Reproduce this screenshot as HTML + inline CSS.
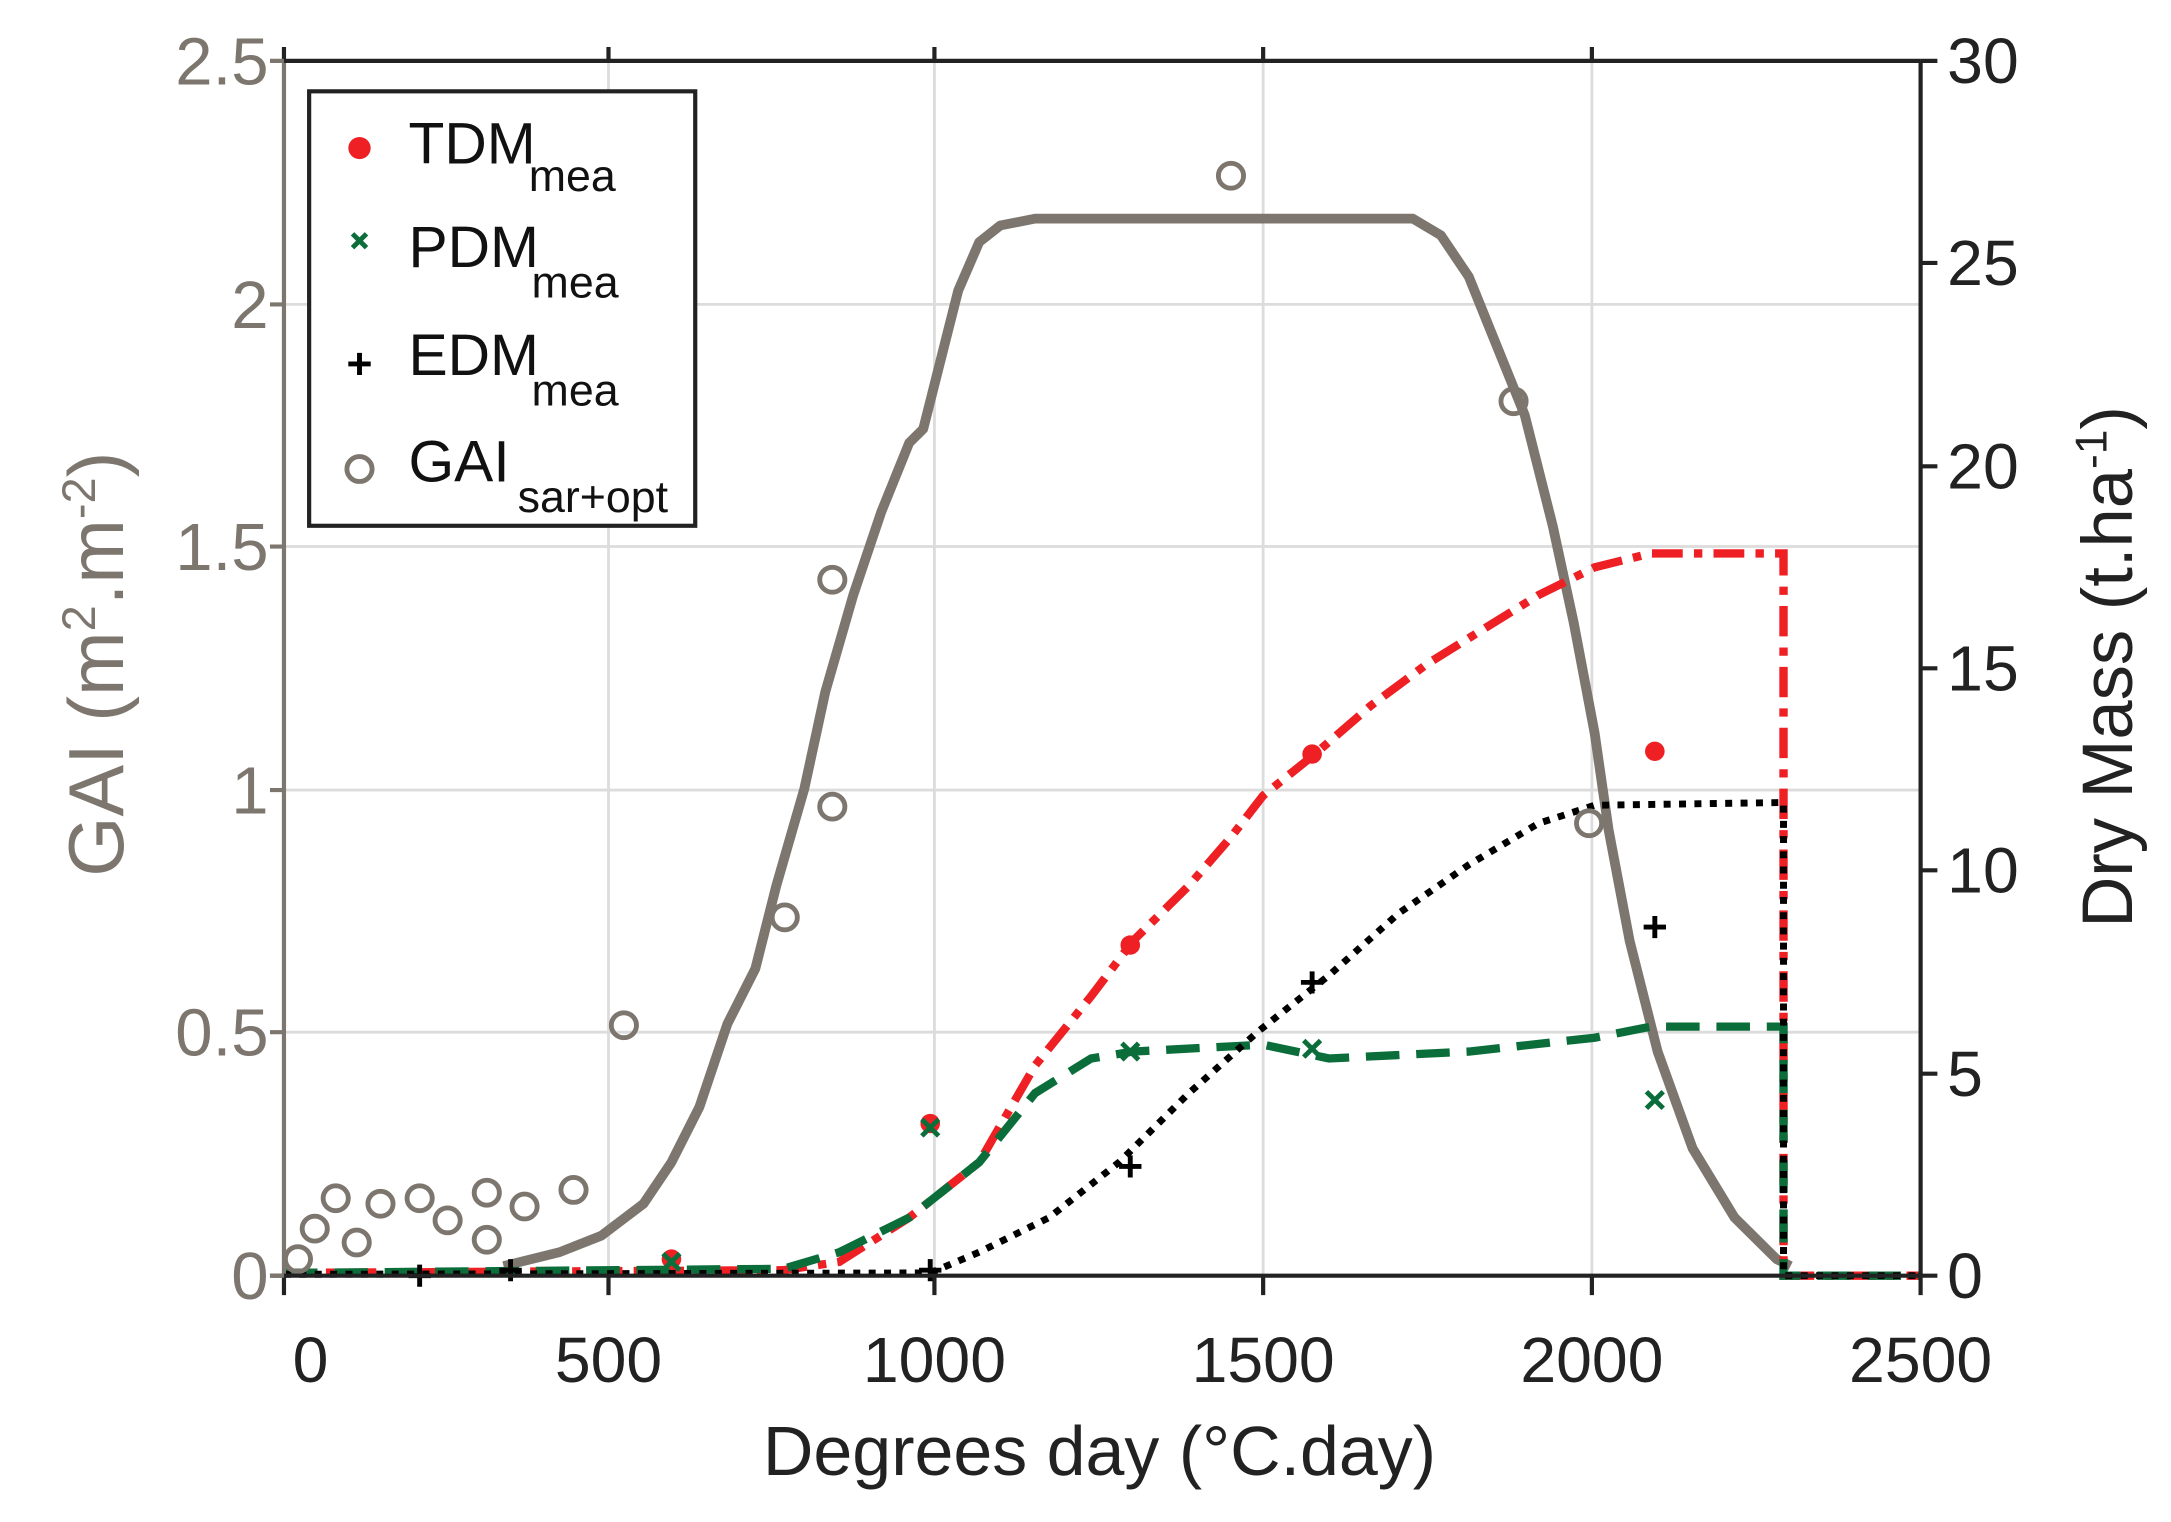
<!DOCTYPE html>
<html><head><meta charset="utf-8"><style>html,body{margin:0;padding:0;background:#fff}svg{display:block}</style></head>
<body>
<svg width="2171" height="1522" viewBox="0 0 1552 1100" preserveAspectRatio="none" xmlns="http://www.w3.org/2000/svg" font-family="Liberation Sans, sans-serif">
<rect width="1552" height="1100" fill="#fff"/>
<g stroke="#dcdcdc" stroke-width="2">
<line x1="435" y1="44" x2="435" y2="922"/><line x1="668" y1="44" x2="668" y2="922"/><line x1="903" y1="44" x2="903" y2="922"/><line x1="1138" y1="44" x2="1138" y2="922"/>
<line x1="203" y1="746" x2="1373" y2="746"/><line x1="203" y1="571" x2="1373" y2="571"/><line x1="203" y1="395" x2="1373" y2="395"/><line x1="203" y1="220" x2="1373" y2="220"/>
</g>
<polyline fill="none" stroke="#7d766e" stroke-width="7" stroke-linejoin="round" points="360,915 400,905 430,893 460,870 480,840 500,800 520,740 540,700 555,640 575,570 590,500 610,430 630,370 650,320 660,310 670,270 685,210 700,175 715,163 740,158 1010,158 1030,170 1050,200 1070,250 1090,300 1110,380 1125,450 1140,530 1150,600 1165,680 1185,760 1210,830 1240,880 1270,910 1280,915"/>
<polyline fill="none" stroke="#ee2024" stroke-width="6" stroke-dasharray="22,8,6,8" points="203,920 560,918 600,912 650,880 700,840 740,770 780,720 810,680 850,640 880,605 903,575 940,545 980,510 1020,480 1060,455 1100,430 1140,410 1180,400 1275,400 1275,922 1373,922"/>
<polyline fill="none" stroke="#0b6e3a" stroke-width="6" stroke-dasharray="24,12" points="203,920 560,917 600,905 650,880 700,840 740,790 780,765 810,760 903,755 950,765 1050,760 1140,750 1180,742 1275,742 1275,922 1373,922"/>
<polyline fill="none" stroke="#000" stroke-width="5" stroke-dasharray="5,6" points="203,921 665,920 700,905 750,880 800,840 850,790 900,745 950,705 1000,660 1050,625 1100,595 1140,582 1275,580 1275,922 1373,922"/>
<g fill="none" stroke="#7d766e" stroke-width="3.5">
<circle cx="213" cy="910" r="9"/><circle cx="225" cy="888" r="9"/><circle cx="240" cy="866" r="9"/><circle cx="255" cy="898" r="9"/><circle cx="272" cy="870" r="9"/><circle cx="300" cy="866" r="9"/><circle cx="320" cy="882" r="9"/><circle cx="348" cy="862" r="9"/><circle cx="348" cy="896" r="9"/><circle cx="375" cy="872" r="9"/><circle cx="410" cy="860" r="9"/><circle cx="446" cy="741" r="9"/><circle cx="561" cy="663" r="9"/><circle cx="595" cy="583" r="9"/><circle cx="595" cy="419" r="9"/><circle cx="880" cy="127" r="9"/><circle cx="1082" cy="290" r="9"/><circle cx="1136" cy="595" r="9"/>
</g>
<g fill="#ee2024"><circle cx="480" cy="910" r="7"/><circle cx="665" cy="812" r="7"/><circle cx="808" cy="683" r="7"/><circle cx="938" cy="545" r="7"/><circle cx="1183" cy="543" r="7"/></g>
<g stroke="#0b6e3a" stroke-width="3.5"><path d="M474,906l12,12M486,906l-12,12 M659,809l12,12M671,809l-12,12 M802,754l12,12M814,754l-12,12 M932,752l12,12M944,752l-12,12 M1177,789l12,12M1189,789l-12,12"/></g>
<g stroke="#000" stroke-width="3.5"><path d="M292,922h16M300,914v16 M357,918h16M365,910v16 M657,918h16M665,910v16 M800,843h16M808,835v16 M930,710h16M938,702v16 M1175,670h16M1183,662v16"/></g>
<line x1="203" y1="44" x2="203" y2="922" stroke="#7d766e" stroke-width="3"/>
<line x1="203" y1="44" x2="1373" y2="44" stroke="#222" stroke-width="3"/>
<line x1="1373" y1="44" x2="1373" y2="922" stroke="#222" stroke-width="3"/>
<line x1="193" y1="922" x2="1373" y2="922" stroke="#222" stroke-width="3"/>
<g stroke="#222" stroke-width="3"><path d="M203,922v14M435,922v14M668,922v14M903,922v14M1138,922v14M1373,922v14 M203,44v-10M435,44v-10M668,44v-10M903,44v-10M1138,44v-10"/>
<path d="M1373,44h12M1373,190h12M1373,337h12M1373,483h12M1373,629h12M1373,776h12M1373,922h12"/></g>
<g stroke="#7d766e" stroke-width="3"><path d="M203,44h-10M203,220h-10M203,395h-10M203,571h-10M203,746h-10M203,922h-10"/></g>
<g font-size="48" fill="#7d766e" text-anchor="end">
<text x="192" y="61">2.5</text><text x="192" y="237">2</text><text x="192" y="412">1.5</text><text x="192" y="588">1</text><text x="192" y="763">0.5</text><text x="192" y="939">0</text>
</g>
<g font-size="46" fill="#222">
<text x="1392" y="60">30</text><text x="1392" y="206">25</text><text x="1392" y="353">20</text><text x="1392" y="499">15</text><text x="1392" y="645">10</text><text x="1392" y="792">5</text><text x="1392" y="938">0</text>
</g>
<g font-size="46" fill="#222" text-anchor="middle">
<text x="222" y="999">0</text><text x="435" y="999">500</text><text x="668" y="999">1000</text><text x="903" y="999">1500</text><text x="1138" y="999">2000</text><text x="1373" y="999">2500</text>
<text x="786" y="1066" font-size="50">Degrees day (°C.day)</text>
</g>
<text transform="translate(88,480) rotate(-90)" font-size="56" fill="#7d766e" text-anchor="middle">GAI (m<tspan font-size="34" dy="-20">2</tspan><tspan dy="20">.m</tspan><tspan font-size="34" dy="-20">-2</tspan><tspan dy="20">)</tspan></text>
<text transform="translate(1524,482) rotate(-90)" font-size="51" fill="#222" text-anchor="middle">Dry Mass (t.ha<tspan font-size="32" dy="-18">-1</tspan><tspan dy="18">)</tspan></text>
<rect x="221" y="66" width="276" height="314" fill="#fff" stroke="#222" stroke-width="3"/>
<circle cx="257" cy="107" r="8" fill="#ee2024"/>
<path d="M252,169l10,10M262,169l-10,10" stroke="#0b6e3a" stroke-width="3.5"/>
<path d="M249,263h16M257,255v16" stroke="#000" stroke-width="3.5"/>
<circle cx="257" cy="339" r="9" fill="none" stroke="#7d766e" stroke-width="3.5"/>
<g font-size="42" fill="#111">
<text x="292" y="118">TDM</text><text x="378" y="138" font-size="32">mea</text>
<text x="292" y="193">PDM</text><text x="380" y="215" font-size="32">mea</text>
<text x="292" y="271">EDM</text><text x="380" y="293" font-size="32">mea</text>
<text x="292" y="348">GAI</text><text x="370" y="370" font-size="32">sar+opt</text>
</g>
</svg>
</body></html>
